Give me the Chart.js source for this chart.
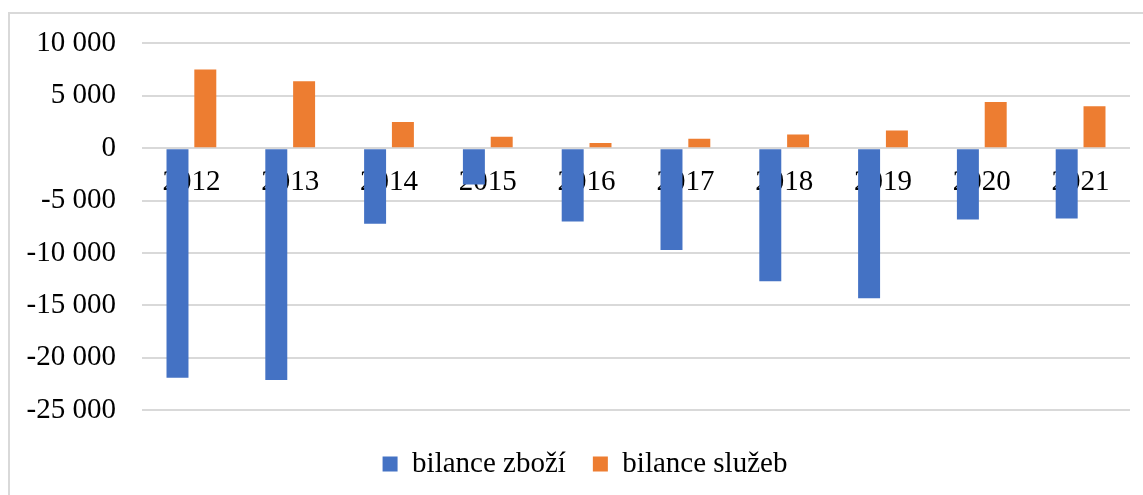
<!DOCTYPE html>
<html>
<head>
<meta charset="utf-8">
<script src="https://cdn.jsdelivr.net/npm/chart.js@4/dist/chart.umd.min.js"></script>
<style>
  html, body { margin: 0; padding: 0; background: #ffffff; overflow: hidden; }
  #frame { position: absolute; left: 8px; top: 12px; width: 1300px; height: 700px;
           border-left: 2px solid #d9d9d9; border-top: 2px solid #d9d9d9; box-sizing: border-box; }
  #wrap { position: absolute; left: 0; top: 0; width: 1143px; height: 495px; }
</style>
</head>
<body>
<div id="frame"></div>
<div id="wrap"><canvas id="c" width="1143" height="495"></canvas></div>
<script>
const categories = ['2012', '2013', '2014', '2015', '2016', '2017', '2018', '2019', '2020', '2021'];
const bilanceZbozi = [-21900, -22100, -7200, -3450, -7000, -9700, -12700, -14300, -6800, -6700];
const bilanceSluzeb = [7500, 6400, 2500, 1100, 500, 900, 1300, 1700, 4400, 4000];
const seriesNames = ['bilance zboží', 'bilance služeb'];
const yMin = -25000, yMax = 10000, yStep = 5000;

const fontFamily = '"Liberation Serif", "Times New Roman", serif';

function fmt(v) {
  const s = Math.abs(v).toString().replace(/\B(?=(\d{3})+(?!\d))/g, ' ');
  return (v < 0 ? '-' : '') + s;
}

// nudge the centred legend slightly to the right, as in the original layout
const legendShift = {
  id: 'legendShift',
  afterLayout(chart) {
    const lg = chart.legend;
    if (lg) { lg.left += 10; lg.right += 10; }
  }
};

new Chart(document.getElementById('c'), {
  type: 'bar',
  data: {
    labels: categories,
    datasets: [
      { label: seriesNames[0], data: bilanceZbozi, backgroundColor: '#4472C4', borderWidth: 0 },
      { label: seriesNames[1], data: bilanceSluzeb, backgroundColor: '#ED7D31', borderWidth: 0 }
    ]
  },
  plugins: [legendShift],
  options: {
    responsive: false,
    animation: false,
    devicePixelRatio: 1,
    categoryPercentage: 0.563,
    barPercentage: 0.79,
    layout: { padding: { left: 20, right: 13, top: 42, bottom: 6.5 } },
    plugins: {
      tooltip: { enabled: false },
      legend: {
        position: 'bottom',
        title: { display: true, text: '', font: { size: 1 }, padding: { top: 11, bottom: 0 } },
        labels: {
          boxWidth: 15,
          boxHeight: 15,
          padding: 27,
          color: '#000000',
          font: { family: fontFamily, size: 29 }
        }
      }
    },
    scales: {
      x: {
        position: { y: 0 },
        grid: { display: false, drawTicks: false },
        border: { display: false },
        ticks: {
          color: '#000000',
          padding: 17,
          maxRotation: 0,
          autoSkip: false,
          font: { family: fontFamily, size: 29 }
        },
        afterFit: (axis) => { axis.height = 0; }
      },
      y: {
        min: yMin,
        max: yMax,
        grid: { color: '#d9d9d9', lineWidth: 2, drawTicks: false },
        border: { display: false },
        ticks: {
          stepSize: yStep,
          color: '#000000',
          padding: 26,
          font: { family: fontFamily, size: 29 },
          callback: (v) => fmt(v)
        },
        afterFit: (axis) => { axis.width = 122; }
      }
    }
  }
});
</script>
</body>
</html>
